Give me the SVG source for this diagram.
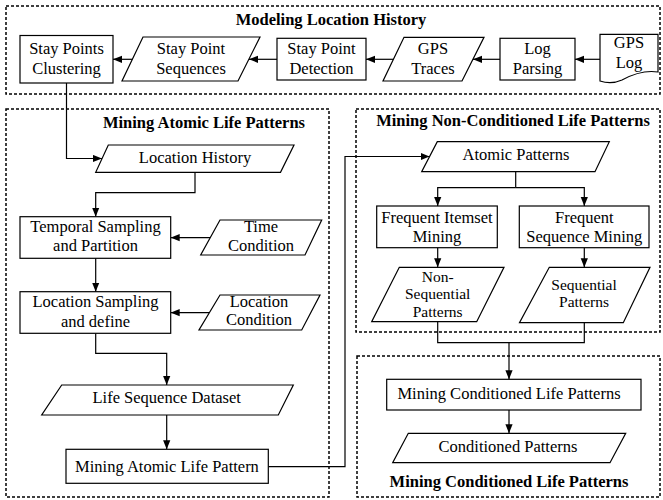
<svg xmlns="http://www.w3.org/2000/svg" width="663" height="500" viewBox="0 0 663 500">
<style>
  .bg{fill:#fff}
  .grp{fill:none;stroke:#000;stroke-width:1.5;stroke-dasharray:3 2}
  .n{fill:#fff;stroke:#000;stroke-width:1.2}
  .t{font-size:16.5px;fill:#000;text-anchor:middle}
  .s{font-size:15.5px}
  .h{font-size:16.5px;font-weight:bold;fill:#000;text-anchor:middle}
  .c{fill:none;stroke:#000;stroke-width:1.2}
  .a{marker-end:url(#arr)}
</style>
<defs>
  <marker id="arr" viewBox="0 0 10 8" refX="10" refY="4" markerWidth="9" markerHeight="8" markerUnits="userSpaceOnUse" orient="auto">
    <path d="M0,0 L10,4 L0,8 z" fill="#000"/>
  </marker>
</defs>
<rect class="bg" x="0" y="0" width="663" height="500"/>
<g font-family="Liberation Serif, 'Times New Roman', 'DejaVu Serif', serif">
<g id="groups">
  <rect class="grp" x="6" y="6" width="654" height="88"/>
  <text class="h" x="331" y="25">Modeling Location History</text>
  <rect class="grp" x="6" y="109" width="323" height="388"/>
  <text class="h" x="204" y="128">Mining Atomic Life Patterns</text>
  <rect class="grp" x="356" y="109" width="304" height="223"/>
  <text class="h" x="513" y="126">Mining Non-Conditioned Life Patterns</text>
  <rect class="grp" x="357" y="356" width="303" height="141"/>
  <text class="h" x="509" y="487">Mining Conditioned Life Patterns</text>
</g>

<g id="connectors">
  <path class="c a" d="M132.5,59.3 H113"/>
  <path class="c a" d="M277,59.3 H249"/>
  <path class="c a" d="M393.5,59.3 H366"/>
  <path class="c a" d="M500,59.3 H473"/>
  <path class="c a" d="M600,59.3 H575"/>
  <path class="c a" d="M66.5,83 V158.5 H102"/>
  <path class="c a" d="M195,172.3 V192.7 H95.7 V216.7"/>
  <path class="c a" d="M210.4,237.7 H170.7"/>
  <path class="c a" d="M95.7,258.3 V291.7"/>
  <path class="c a" d="M209.5,312.7 H170.7"/>
  <path class="c a" d="M95.7,333.3 V353.3 H166.7 V385"/>
  <path class="c a" d="M166.7,415 V449.3"/>
  <path class="c a" d="M268.3,466.7 H345 V156.5 H429.5"/>
  <path class="c" d="M515.7,171.7 V187.7"/>
  <path class="c a" d="M515.7,187.7 H437.7 V206"/>
  <path class="c a" d="M515.7,187.7 H584.3 V206"/>
  <path class="c a" d="M437.7,247.7 V267.3"/>
  <path class="c a" d="M584.3,247.7 V267.3"/>
  <path class="c" d="M437.7,321.7 V342.7 H584.3 V322.7"/>
  <path class="c a" d="M509,342.7 V379.3"/>
  <path class="c a" d="M509,410 V433.3"/>
</g>

<g id="stay-points-clustering">
  <rect class="n" x="20" y="35.5" width="93" height="47.5"/>
  <text class="t" x="66.5" y="54">Stay Points</text>
  <text class="t" x="66.5" y="74">Clustering</text>
</g>
<g id="stay-point-sequences">
  <polygon class="n" points="143,37 260,37 238,81 122,81"/>
  <text class="t" x="191" y="54">Stay Point</text>
  <text class="t" x="191" y="74">Sequences</text>
</g>
<g id="stay-point-detection">
  <rect class="n" x="277" y="38.3" width="89" height="41.7"/>
  <text class="t" x="321.5" y="54">Stay Point</text>
  <text class="t" x="321.5" y="74">Detection</text>
</g>
<g id="gps-traces">
  <polygon class="n" points="404,37.3 484,37.3 462,81 383,81"/>
  <text class="t" x="433" y="54">GPS</text>
  <text class="t" x="433" y="74">Traces</text>
</g>
<g id="log-parsing">
  <rect class="n" x="500" y="38.3" width="75" height="41.7"/>
  <text class="t" x="537.5" y="54">Log</text>
  <text class="t" x="537.5" y="74">Parsing</text>
</g>
<g id="gps-log">
  <path class="n" d="M600,34.3 H658 V72 C645,70 633,74 622,80 C613,84 606,83 600,81 Z"/>
  <text class="t" x="629" y="48">GPS</text>
  <text class="t" x="629" y="68">Log</text>
</g>

<g id="location-history">
  <polygon class="n" points="108.3,145 294,145 280.5,172.3 95.7,172.3"/>
  <text class="t" x="195" y="163.3">Location History</text>
</g>
<g id="temporal-sampling">
  <rect class="n" x="20" y="216.7" width="150.7" height="41.6"/>
  <text class="t" x="95.5" y="231.7">Temporal Sampling</text>
  <text class="t" x="95.5" y="251">and Partition</text>
</g>
<g id="time-condition">
  <polygon class="n" points="220,220 321.7,220 305,255 200.7,255"/>
  <text class="t" x="261" y="232.3">Time</text>
  <text class="t" x="261" y="250.7">Condition</text>
</g>
<g id="location-sampling">
  <rect class="n" x="20" y="291.7" width="150.7" height="41.6"/>
  <text class="t" x="95.5" y="307.3">Location Sampling</text>
  <text class="t" x="95.5" y="326.7">and define</text>
</g>
<g id="location-condition">
  <polygon class="n" points="220,295 320,295 301.7,330 199,330"/>
  <text class="t" x="259" y="307.3">Location</text>
  <text class="t" x="259" y="325">Condition</text>
</g>
<g id="life-sequence-dataset">
  <polygon class="n" points="61.7,385 293.3,385 278.3,415 41.7,415"/>
  <text class="t" x="166.7" y="403.3">Life Sequence Dataset</text>
</g>
<g id="mining-atomic-life-pattern">
  <rect class="n" x="66" y="449.3" width="202.3" height="34"/>
  <text class="t" x="167" y="471.7">Mining Atomic Life Pattern</text>
</g>

<g id="atomic-patterns">
  <polygon class="n" points="437.3,141.7 609.3,141.7 595,171.7 421.7,171.7"/>
  <text class="t" x="516" y="160">Atomic Patterns</text>
</g>
<g id="frequent-itemset-mining">
  <rect class="n" x="376.7" y="206" width="120.6" height="41.7"/>
  <text class="t" x="437" y="223.3">Frequent Itemset</text>
  <text class="t" x="437" y="242.3">Mining</text>
</g>
<g id="frequent-sequence-mining">
  <rect class="n" x="519.3" y="206" width="129.7" height="41.7"/>
  <text class="t" x="584.3" y="223.3">Frequent</text>
  <text class="t" x="584.3" y="242.3">Sequence Mining</text>
</g>
<g id="non-sequential-patterns">
  <polygon class="n" points="399.3,267.3 504,267.3 476.7,321.7 371.7,321.7"/>
  <text class="t s" x="437.7" y="281.5">Non-</text>
  <text class="t s" x="437.7" y="299">Sequential</text>
  <text class="t s" x="437.7" y="316.5">Patterns</text>
</g>
<g id="sequential-patterns">
  <polygon class="n" points="549.3,267.3 650,267.3 623.3,322.7 519.5,322.7"/>
  <text class="t s" x="584" y="290">Sequential</text>
  <text class="t s" x="584" y="307.3">Patterns</text>
</g>

<g id="mining-conditioned-life-patterns">
  <rect class="n" x="386.7" y="379.3" width="254.3" height="30.7"/>
  <text class="t" x="509" y="399.3">Mining Conditioned Life Patterns</text>
</g>
<g id="conditioned-patterns">
  <polygon class="n" points="408.3,433.3 625.7,433.3 610,462.7 392.7,462.7"/>
  <text class="t" x="508" y="451.7">Conditioned Patterns</text>
</g>
</g>
</svg>
